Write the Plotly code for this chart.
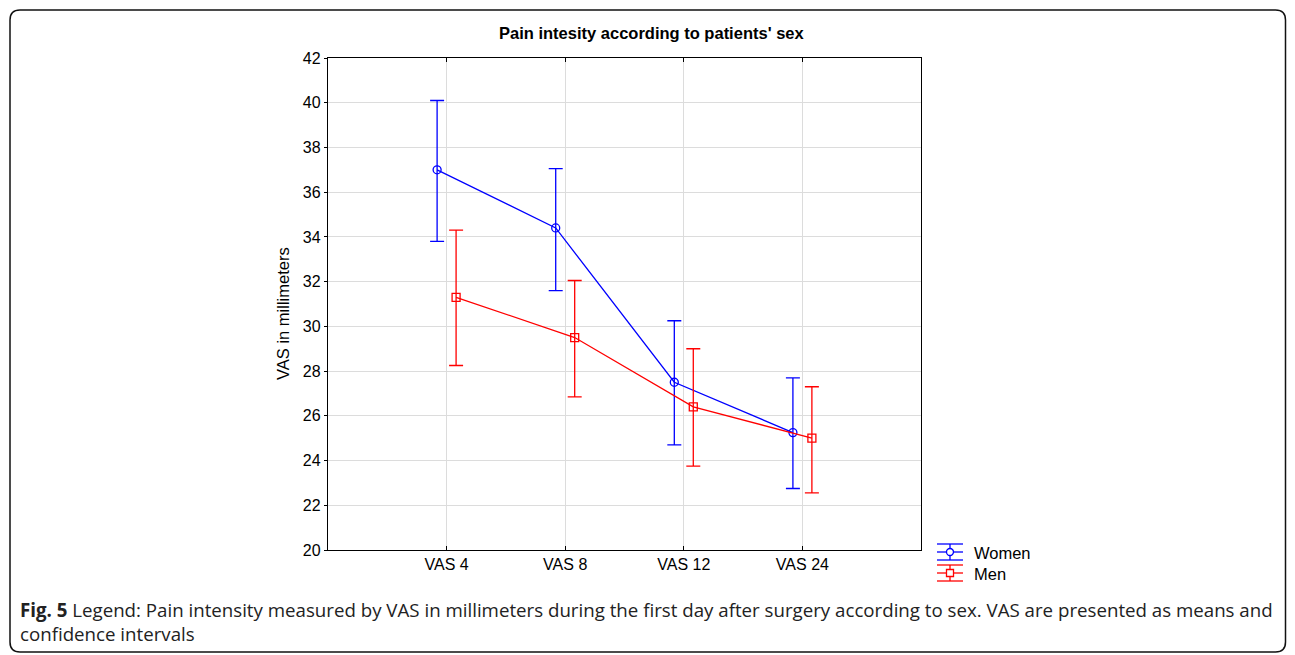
import numpy as np
import plotly.graph_objects as go

categories = ["VAS 4", "VAS 8", "VAS 12", "VAS 24"]
series_names = ["Women", "Men"]
women_mean = [37.0, 34.4, 27.5, 25.25]
women_upper = [40.1, 37.05, 30.25, 27.7]
women_lower = [33.8, 31.6, 24.7, 22.75]
men_mean = [31.3, 29.5, 26.4, 25.0]
men_upper = [34.3, 32.05, 29.0, 27.3]
men_lower = [28.25, 26.85, 23.75, 22.55]

W, H = 1279, 647
PAGE_OFF = 8  # default body margin of the html page
# plot area in page pixels
L, R, T, B = 328, 921, 58, 550
idx = np.arange(len(categories))
off = 0.08
BLUE, RED = "#0000ff", "#ff0000"

fig = go.Figure()

def add_series(name, mean, up, lo, color, symbol, size, shift):
    mean = np.array(mean); up = np.array(up); lo = np.array(lo)
    fig.add_trace(go.Scatter(
        x=idx + shift, y=mean, name=name, mode="lines+markers", showlegend=False,
        line=dict(color=color, width=1.3),
        marker=dict(symbol=symbol, size=size, color=color, line=dict(color=color, width=1.3)),
        error_y=dict(type="data", symmetric=False, array=up - mean, arrayminus=mean - lo,
                     color=color, thickness=1.3, width=7),
    ))

add_series(series_names[0], women_mean, women_upper, women_lower, BLUE, "circle-open", 8, -off)
add_series(series_names[1], men_mean, men_upper, men_lower, RED, "square-open", 8, off)

def px(x):
    return (x - L) / (R - L)

def py(y):
    return (B - y) / (B - T)

# rounded border around the whole figure (page pixels)
x0, x1, y0, y1, r = 10, 1285.5, 10, 652, 10
pts = (f"M {px(x0+r)},{py(y0)} L {px(x1-r)},{py(y0)} Q {px(x1)},{py(y0)} {px(x1)},{py(y0+r)} "
       f"L {px(x1)},{py(y1-r)} Q {px(x1)},{py(y1)} {px(x1-r)},{py(y1)} "
       f"L {px(x0+r)},{py(y1)} Q {px(x0)},{py(y1)} {px(x0)},{py(y1-r)} "
       f"L {px(x0)},{py(y0+r)} Q {px(x0)},{py(y0)} {px(x0+r)},{py(y0)} Z")
fig.add_shape(type="path", path=pts, xref="paper", yref="paper",
              line=dict(color="#111111", width=1.5), layer="below")

font_ax = "Liberation Sans, Arial, sans-serif"

# custom legend: error-bar style symbols
legend_items = [(series_names[0], BLUE, "circle", 552), (series_names[1], RED, "square", 573)]
for name, color, sym, cy in legend_items:
    for dy in (-8, 0, 8):
        fig.add_shape(type="line", xref="paper", yref="paper",
                      x0=px(937), x1=px(963), y0=py(cy + dy), y1=py(cy + dy),
                      line=dict(color=color, width=1.3))
    fig.add_shape(type="line", xref="paper", yref="paper",
                  x0=px(950), x1=px(950), y0=py(cy - 8), y1=py(cy + 8),
                  line=dict(color=color, width=1.3))
    fig.add_shape(type=("circle" if sym == "circle" else "rect"), xref="paper", yref="paper",
                  x0=px(946.5), x1=px(953.5), y0=py(cy - 3.5), y1=py(cy + 3.5),
                  line=dict(color=color, width=1.3), fillcolor="white")
    fig.add_annotation(text=name, x=px(972), y=py(cy + 1), xref="paper", yref="paper",
                       showarrow=False, xanchor="left", yanchor="middle",
                       font=dict(family=font_ax, size=16.5, color="black"))

fig.add_annotation(text="<b>Pain intesity according to patients' sex</b>", x=px(651), y=py(33),
                   xref="paper", yref="paper", showarrow=False, xanchor="center", yanchor="middle",
                   font=dict(family=font_ax, size=16.5, color="black"))
fig.add_annotation(text="VAS in millimeters", x=px(283), y=py(314), textangle=-90,
                   xref="paper", yref="paper", showarrow=False, xanchor="center", yanchor="middle",
                   font=dict(family=font_ax, size=16.5, color="black"))
cap_font = dict(family="Open Sans, sans-serif", size=18.7, color="#222222")
fig.add_annotation(text="<b>Fig. 5</b> Legend: Pain intensity measured by VAS in millimeters during the first day after surgery according to sex. VAS are presented as means and"
                        "<br>confidence intervals",
                   x=px(18), y=py(621), xref="paper", yref="paper", showarrow=False,
                   xanchor="left", yanchor="middle", align="left", font=cap_font)

fig.update_layout(
    width=W, height=H,
    margin=dict(l=L - PAGE_OFF, r=W - (R - PAGE_OFF), t=T - PAGE_OFF, b=H - (B - PAGE_OFF)),
    plot_bgcolor="white", paper_bgcolor="white",
    showlegend=False,
    xaxis=dict(range=[-1, len(categories)], tickmode="array", tickvals=idx, ticktext=categories,
               showgrid=True, gridcolor="#dcdcdc", gridwidth=1, zeroline=False,
               showline=True, linecolor="black", linewidth=1.3, mirror="ticks",
               ticks="inside", ticklen=4, tickcolor="black",
               tickfont=dict(family=font_ax, size=16, color="black")),
    yaxis=dict(range=[20, 42], tickmode="linear", tick0=20, dtick=2,
               showgrid=True, gridcolor="#dcdcdc", gridwidth=1, zeroline=False,
               showline=True, linecolor="black", linewidth=1.3, mirror=True,
               ticks="outside", ticklen=3, tickcolor="black",
               tickfont=dict(family=font_ax, size=16, color="black")),
    yaxis2=dict(range=[20, 42], tickmode="linear", tick0=20, dtick=2, overlaying="y", side="right",
                showgrid=False, zeroline=False, showline=False, showticklabels=False,
                ticks="inside", ticklen=3, tickcolor="black"),
)

fig.write_html("out.html")
